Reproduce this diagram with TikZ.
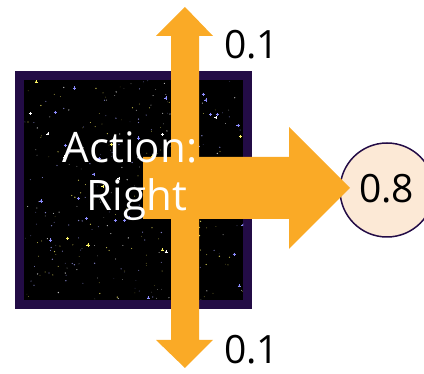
\documentclass[tikz,border=0pt]{standalone}
\usepackage{fontspec}
\setmainfont{Open Sans}
\definecolor{arrowc}{RGB}{250,170,38}
\definecolor{framec}{RGB}{35,12,70}
\definecolor{peach}{RGB}{252,233,214}
\begin{document}
\begin{tikzpicture}[x=1pt,y=-1pt,
  bigtxt/.style={font=\fontsize{42}{42}\selectfont, text=white, inner sep=0pt, anchor=base},
  numtxt/.style={font=\fontsize{39}{39}\selectfont, text=black, inner sep=0pt},
  blockarrow/.style={fill=arrowc, draw=none}]
\useasboundingbox (0,0) rectangle (424,374);
% grid world square
\node[draw=framec, line width=9pt, fill=black, minimum width=228pt, minimum height=229pt, inner sep=0pt] (grid) at (133.5,190) {};
% starfield
\begin{scope}
\clip (24,80) rectangle (243,300);
\pgfmathsetseed{7}
\foreach \i in {1,...,320}{
  \pgfmathsetmacro{\sx}{24+219*rnd}
  \pgfmathsetmacro{\sy}{80+220*rnd}
  \pgfmathsetmacro{\sr}{0.25+0.5*rnd}
  \pgfmathtruncatemacro{\sc}{3*rnd}
  \ifcase\sc \def\col{white}\or \def\col{yellow!60!white}\or \def\col{blue!35!white}\else \def\col{white}\fi
  \fill[\col, opacity=0.75] (\sx,\sy) circle (\sr);
}
\foreach \i in {1,...,45}{
  \pgfmathsetmacro{\sx}{24+219*rnd}
  \pgfmathsetmacro{\sy}{80+220*rnd}
  \pgfmathtruncatemacro{\sc}{4*rnd}
  \ifcase\sc \def\col{white}\or \def\col{yellow!60!white}\or \def\col{blue!45!white}\or \def\col{blue!45!white}\else \def\col{white}\fi
  \draw[\col, line width=0.4pt] (\sx-1.6,\sy) -- (\sx+1.6,\sy) (\sx,\sy-1.6) -- (\sx,\sy+1.6);
  \fill[\col] (\sx,\sy) circle (0.8);
}
\end{scope}
% outcome circle
\node[circle, draw=framec, line width=1.5pt, fill=peach, minimum size=94pt, inner sep=0pt] (p8) at (387,190) {};
% vertical double arrow
\fill[blockarrow] (171,36) -- (156,36) -- (185,7) -- (213,36) -- (199,36) -- (199,340) -- (213,340) -- (185,368) -- (156,340) -- (171,340) -- cycle;
% right arrow
\fill[blockarrow] (143,157) -- (289,157) -- (289,127) -- (350,188) -- (289,249) -- (289,219) -- (143,219) -- cycle;
% labels
\node[bigtxt] (act) at (130,163) {Action:};
\node[bigtxt] (rgt) at (137,211) {Right};
\node[numtxt, anchor=base west] (up) at (224,59) {0.1};
\node[numtxt, anchor=base west] (down) at (224,364) {0.1};
\node[numtxt, anchor=base] (t8) at (386.5,203) {0.8};
\end{tikzpicture}
\end{document}
